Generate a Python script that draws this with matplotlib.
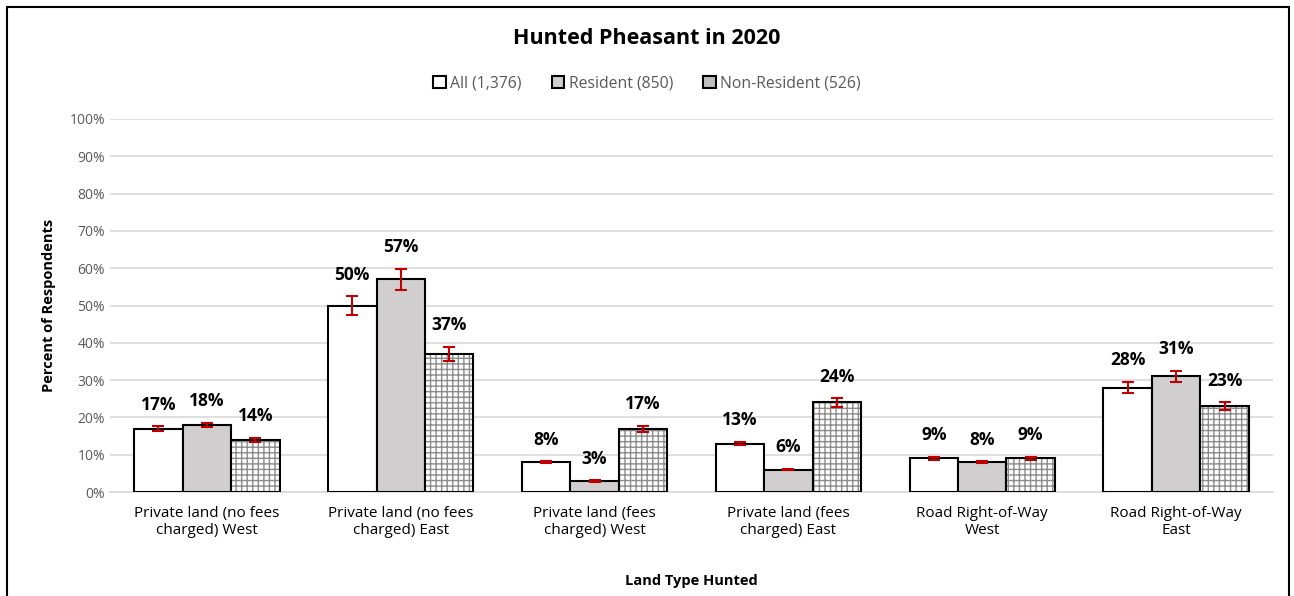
import matplotlib
matplotlib.use("Agg")
import matplotlib.pyplot as plt
from matplotlib.patches import Rectangle, Patch
import numpy as np

categories = ["Private land (no fees\ncharged) West", "Private land (no fees\ncharged) East",
              "Private land (fees\ncharged) West", "Private land (fees\ncharged) East",
              "Road Right-of-Way\nWest", "Road Right-of-Way\nEast"]
series_names = ["All (1,376)", "Resident (850)", "Non-Resident (526)"]
all_vals = [17, 50, 8, 13, 9, 28]
res_vals = [18, 57, 3, 6, 8, 31]
nonres_vals = [14, 37, 17, 24, 9, 23]
all_err = [0.6, 2.5, 0.3, 0.5, 0.4, 1.5]
res_err = [0.6, 2.8, 0.2, 0.2, 0.3, 1.5]
nonres_err = [0.6, 1.9, 0.8, 1.1, 0.4, 1.1]
yticks = list(range(0, 101, 10))

plt.rcParams['font.family'] = ['Open Sans', 'DejaVu Sans']
plt.rcParams['hatch.linewidth'] = 1.0

fig = plt.figure(figsize=(12.94, 5.96), dpi=100)
ax = fig.add_axes([110/1294, 1-492/596, 1163/1294, 373/596])

x = np.arange(len(categories))
w = 0.25
gray_text = "#595959"

vals = [all_vals, res_vals, nonres_vals]
errs = [all_err, res_err, nonres_err]
for i, (v, e) in enumerate(zip(vals, errs)):
    pos = x + (i - 1) * w
    if i == 0:
        ax.bar(pos, v, w, color="white", edgecolor="black", linewidth=1.5, zorder=3)
    elif i == 1:
        ax.bar(pos, v, w, color="#d0cece", edgecolor="black", linewidth=1.5, zorder=3)
    else:
        ax.bar(pos, v, w, color="white", edgecolor="#8c8c8c", linewidth=0, hatch="+++", zorder=3)
        ax.bar(pos, v, w, color="none", edgecolor="black", linewidth=1.5, zorder=3.5)
    ax.errorbar(pos, v, yerr=e, fmt="none", ecolor="#c00000", elinewidth=1.5, capsize=4, capthick=1.5, zorder=4)
    for p, val, er in zip(pos, v, e):
        ax.annotate(f"{val}%", (p, val + er), xytext=(0, 9), textcoords="offset points",
                    ha="center", va="bottom", fontsize=12.5, fontweight="bold", color="black")

ax.set_ylim(0, 100)
ax.set_xlim(-0.5, len(categories) - 0.5)
ax.set_yticks(yticks)
ax.set_yticklabels([f"{t}%" for t in yticks], color=gray_text, fontsize=10)
ax.set_xticks(x)
ax.set_xticklabels(categories, color="black", fontsize=11)
ax.tick_params(axis="both", length=0)
ax.tick_params(axis="x", pad=10)
ax.grid(axis="y", color="#d9d9d9", linewidth=1.2, zorder=0)
for s in ["top", "right", "left"]:
    ax.spines[s].set_visible(False)
ax.spines["bottom"].set_color("#d9d9d9")
ax.spines["bottom"].set_linewidth(1.2)

ax.set_ylabel("Percent of Respondents", fontsize=10.5, fontweight="bold", labelpad=10)
ax.set_xlabel("Land Type Hunted", fontsize=10.5, fontweight="bold", labelpad=26)

fig.text(0.5, 1 - 39/596, "Hunted Pheasant in 2020", ha="center", va="center", fontsize=15.5, fontweight="bold")

handles = [Patch(facecolor="white", edgecolor="black", linewidth=1.5),
           Patch(facecolor="#d0cece", edgecolor="black", linewidth=1.5),
           Patch(facecolor="#bfbfbf", edgecolor="black", linewidth=1.5)]
leg = fig.legend(handles, series_names, loc="center", bbox_to_anchor=(0.5, 1 - 83/596), ncol=3,
                 frameon=False, fontsize=11.3, handlelength=0.8, handleheight=0.8, handletextpad=0.3,
                 columnspacing=1.9)
for t in leg.get_texts():
    t.set_color(gray_text)

fig.patches.append(Rectangle((7/1294, -0.02), (1289-7)/1294, (596-7)/596 + 0.02, transform=fig.transFigure,
                             fill=False, edgecolor="black", linewidth=1.5))

fig.savefig("out.png", dpi=100)
